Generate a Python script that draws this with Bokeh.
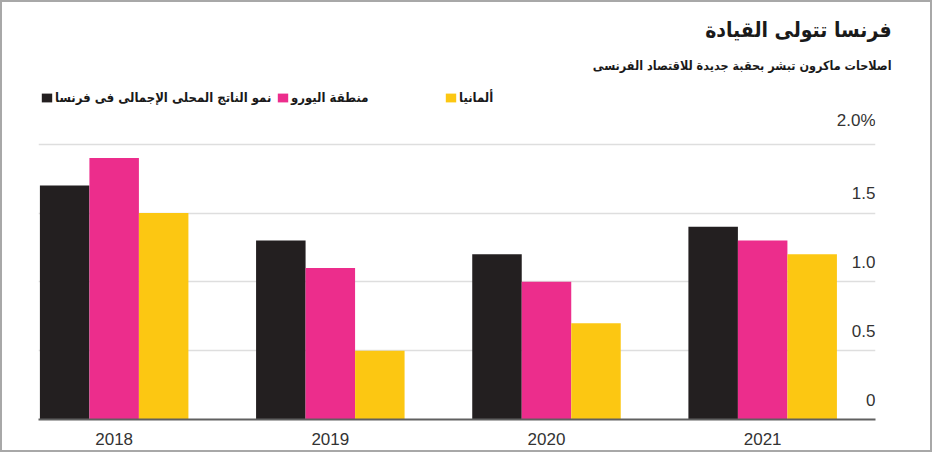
from bokeh.plotting import figure
from bokeh.models import (Range1d, FixedTicker, Title, Legend, LegendItem,
                          ColumnDataSource)
from bokeh.embed import file_html
from bokeh.resources import INLINE

# ---------------- data ----------------
years = ["2018", "2019", "2020", "2021"]
france = [1.7, 1.3, 1.2, 1.4]
eurozone = [1.9, 1.1, 1.0, 1.3]
germany = [1.5, 0.5, 0.7, 1.2]
series_names = ["نمو الناتج المحلى الإجمالى فى فرنسا", "منطقة اليورو", "ألمانيا"]
series_colors = ["#231f20", "#ec2d8c", "#fcc712"]
y_ticks = [0, 0.5, 1.0, 1.5, 2.0]
y_tick_labels = ["0", "0.5", "1.0", "1.5", "2.0%"]
title_text = "فرنسا تتولى القيادة"
subtitle_text = "اصلاحات ماكرون تبشر بحقبة جديدة للاقتصاد الفرنسى"

# ---------------- layout ----------------
X_START, X_END = -0.35, 3.522
Y_START, Y_END = 0.0, 2.412
BAR_W = 0.229
ARABIC_FONT = "DejaVu Sans Condensed"
NUM_FONT = "Liberation Sans"

idx = list(range(len(years)))
p = figure(width=932, height=452, output_backend="svg", toolbar_location=None,
           x_range=Range1d(X_START, X_END), y_range=Range1d(Y_START, Y_END),
           min_border_left=38, min_border_right=57, min_border_top=87,
           min_border_bottom=33)
p.styles = {"box-shadow": "inset 0 0 0 2px #a8a8a8", "background-color": "white"}
p.outline_line_color = None
p.background_fill_color = "white"
p.border_fill_alpha = 0

renderers = []
for k, (vals, col) in enumerate(zip([france, eurozone, germany], series_colors)):
    src = ColumnDataSource(dict(x=[i + (k - 1) * BAR_W for i in idx], top=vals))
    r = p.vbar(x="x", top="top", width=BAR_W, bottom=0, source=src,
               fill_color=col, line_color=None)
    renderers.append(r)

# grid
p.xgrid.visible = False
p.ygrid.ticker = FixedTicker(ticks=y_ticks[1:])
p.ygrid.grid_line_color = "#dedede"
p.ygrid.grid_line_width = 1.5

# y axis hidden, labels drawn inside plot above gridlines
p.yaxis.visible = False
p.text(x=[X_END] * len(y_ticks), y=y_ticks, text=y_tick_labels,
       text_align="right", text_baseline="bottom", y_offset=-14,
       text_font_size="17px", text_color="#333333",
       text_font={"value": NUM_FONT})

# x axis
p.xaxis.ticker = FixedTicker(ticks=idx)
p.xaxis.major_label_overrides = {i: y for i, y in zip(idx, years)}
p.xaxis.major_tick_line_color = None
p.xaxis.minor_tick_line_color = None
p.xaxis.axis_line_color = "#606060"
p.xaxis.axis_line_width = 2
p.xaxis.major_label_text_font = NUM_FONT
p.xaxis.major_label_text_font_size = "17px"
p.xaxis.major_label_text_color = "#333333"
p.xaxis.major_label_standoff = 7

# titles (added nearest-first)
p.add_layout(Title(text=subtitle_text, align="right", offset=-16, standoff=29,
                   text_font=ARABIC_FONT, text_font_style="bold",
                   text_font_size="12.5px", text_color="#1a1a1a"), "above")
p.add_layout(Title(text=title_text, align="right", offset=-16, standoff=0,
                   text_font=ARABIC_FONT, text_font_style="bold",
                   text_font_size="21px", text_color="#1a1a1a"), "above")

# legends (one per item, positioned separately)
leg_x = [2, 238, 406]
for k in range(3):
    leg = Legend(items=[LegendItem(label=series_names[k], renderers=[renderers[k]])],
                 location=(leg_x[k], 314), orientation="horizontal",
                 border_line_color=None, background_fill_alpha=0,
                 padding=0, margin=0, glyph_width=13, glyph_height=11,
                 label_standoff=2, label_text_font=ARABIC_FONT,
                 label_text_font_style="bold", label_text_font_size="13px",
                 label_text_color="#1a1a1a")
    p.add_layout(leg)

open("out.html", "w").write(file_html(p, INLINE))
